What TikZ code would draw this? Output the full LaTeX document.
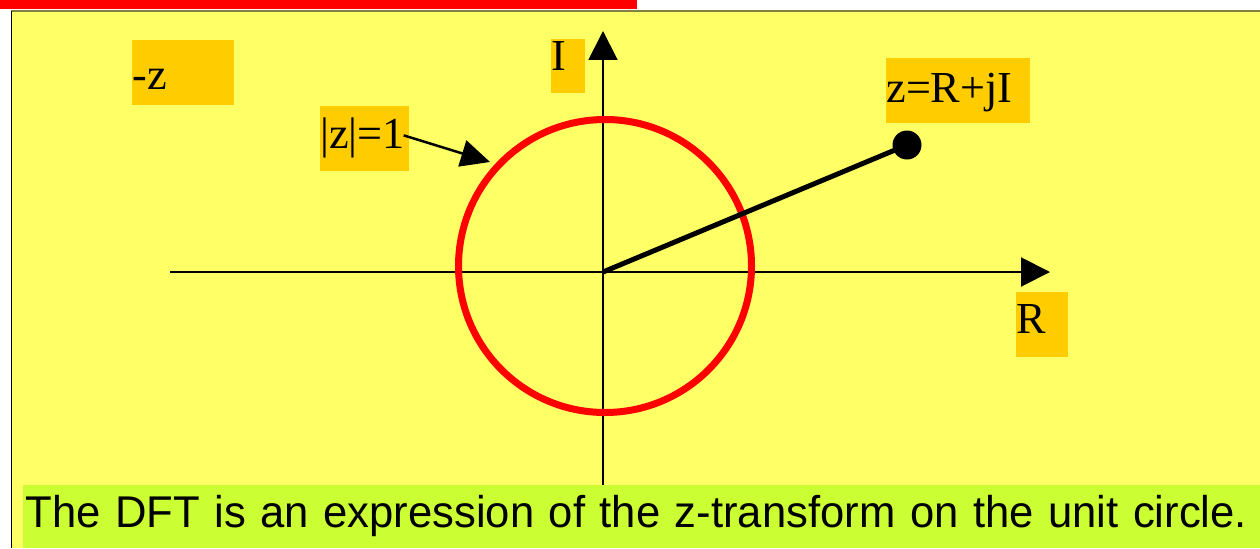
\documentclass[tikz,border=0pt]{standalone}
\usepackage{graphicx}
\usepackage{fontspec}
\setmainfont{Liberation Serif}
\newfontfamily\notefont{Liberation Sans}
\usetikzlibrary{arrows.meta}
\definecolor{slidebg}{HTML}{FFFF66}
\definecolor{labelbg}{HTML}{FFCC00}
\definecolor{notebg}{HTML}{CCFF33}
\definecolor{rulecol}{HTML}{808040}
\begin{document}
\begin{tikzpicture}[x=0.02cm,y=-0.02cm,
  axis/.style={line width=0.04cm,-{Triangle[length=0.58cm,width=0.58cm]}},
  lbl/.style={fill=labelbg,inner sep=0pt,anchor=north west,align=left,
    font=\fontsize{25.2}{29}\selectfont},
  dot/.style={circle,fill=black,inner sep=0pt,minimum size=0.58cm},
  pointer/.style={line width=0.05cm,-{Triangle[length=0.58cm,width=0.54cm]}}]
\useasboundingbox (0,0) rectangle (1260,548);
\fill[white] (0,0) rectangle (1260,548);
\fill[slidebg] (12,11) rectangle (1260,548);
\fill[red] (0,0) rectangle (637,9);
\draw[rulecol,line width=0.03cm] (11,11) -- (1260,11);
\draw[line width=0.04cm] (11.5,11) -- (11.5,548);

\coordinate (o) at (603,272);
\coordinate (xstart) at (170,272);
\coordinate (xend) at (1050,272);
\coordinate (ystart) at (603,485);
\coordinate (yend) at (603,31);
\coordinate (tip) at (490,162);
\draw[axis] (xstart) -- (xend);
\draw[axis] (ystart) -- (yend);
\draw[red,line width=0.14cm] (605,266) circle[radius=146.5];
\node[dot] (zpt) at (907,145) {};
\draw[line width=0.1cm] (o) -- (zpt.center);

\node[lbl,text width=2.04cm,text height=0.98cm,text depth=0.32cm] (minusz) at (132,40) {-z};
\node[lbl,text width=0.68cm,text height=0.62cm,text depth=0.46cm] (imag) at (551,39) {I};
\node[lbl,text width=1.78cm,text height=0.84cm,text depth=0.46cm] (unit) at (320,106) {|z|=1};
\node[lbl,text width=2.88cm,text height=0.88cm,text depth=0.42cm] (zdef) at (886,58) {z=R+jI};
\node[lbl,text width=1.04cm,text height=0.82cm,text depth=0.48cm] (real) at (1016,292) {R};
\draw[pointer] ([xshift=-0.12cm,yshift=0.07cm]unit.east) -- (tip);

\node[fill=notebg,inner sep=0pt,anchor=north west,align=left,text width=24.74cm,
  text height=0.84cm,text depth=0.42cm,font=\notefont\fontsize{25.3}{30}\selectfont]
  (note) at (23,485) {\hspace{0.04cm}\resizebox{24.44cm}{\height}{The DFT is an expression of the z-transform on the unit circle.}};
\end{tikzpicture}
\end{document}
